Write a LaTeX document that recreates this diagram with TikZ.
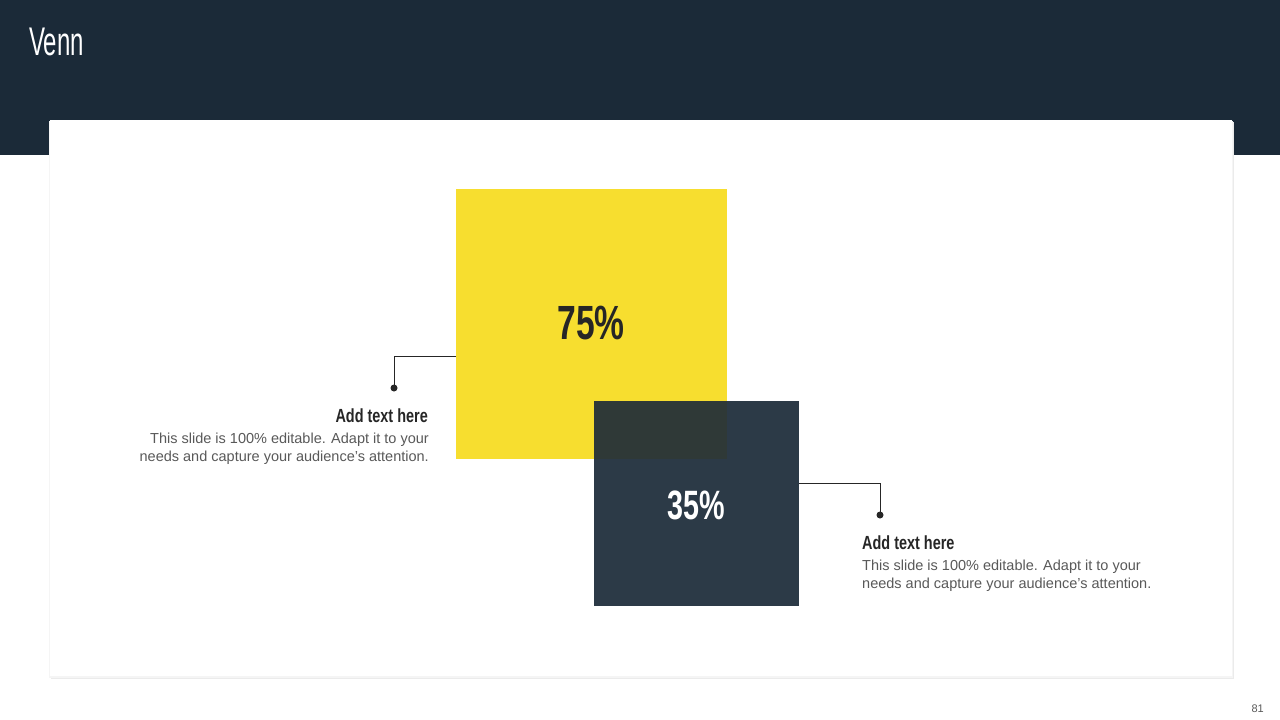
\documentclass[tikz,border=0pt]{standalone}
\usepackage{fontspec}
\setmainfont{Liberation Sans}
\newfontfamily\condfont[FakeStretch=0.70]{Liberation Sans}
\newfontfamily\titlefont[FakeStretch=0.60]{Liberation Sans}
\newfontfamily\headfont[FakeStretch=0.76]{Liberation Sans}
\definecolor{navy}{HTML}{1B2A38}
\definecolor{boxdark}{HTML}{2C3A47}
\definecolor{overlap}{HTML}{2F3937}
\definecolor{yel}{HTML}{F7DE2F}
\definecolor{txtgray}{HTML}{595959}
\definecolor{ink}{HTML}{262626}
\tikzset{
  body/.style={text=txtgray, font=\fontsize{14.5}{18}\selectfont, inner sep=0pt},
  head/.style={text=ink, font=\headfont\bfseries\fontsize{19}{22}\selectfont, inner sep=0pt},
  conn/.style={draw=ink, line width=1pt},
  dotn/.style={circle, fill=ink, inner sep=0pt, minimum size=7pt},
  pct/.style={font=\condfont\bfseries\fontsize{48}{50}\selectfont, inner sep=0pt}
}
\newcommand{\apos}{{\char"0027}}
\begin{document}
\begin{tikzpicture}[x=1pt,y=-1pt]
\useasboundingbox (0,0) rectangle (1280,720);
\fill[white] (0,0) rectangle (1280,720);
\fill[navy] (0,0) rectangle (1280,155);
\node[anchor=west, text=white, font=\titlefont\fontsize{40}{42}\selectfont, inner sep=0pt] (title) at (29,42) {Venn};
% card with shadow
\fill[black!8] (51,122) rectangle (1234,679);
\fill[black!4] (49,121) rectangle (1233,677.5);
\fill[white] (50,120) rectangle (1232,676);
% squares
\node[fill=yel, minimum width=271pt, minimum height=270pt, inner sep=0pt, anchor=north west] (ysq) at (456,189) {};
\node[fill=boxdark, minimum width=205pt, minimum height=205pt, inner sep=0pt, anchor=north west] (dsq) at (594,401) {};
\fill[overlap] (dsq.north west) rectangle (ysq.south east);
\node[pct, text=ink] (p75) at (591,323) {75\%};
\node[pct, text=white, font=\condfont\bfseries\fontsize{41}{44}\selectfont] (p35) at (696,505) {35\%};
% left connector
\coordinate (lstart) at (456,356);
\node[dotn] (ldot) at (394,388) {};
\draw[conn] (lstart) -- (394,356) -- (ldot.center);
\node[head, anchor=base east] (lhead) at (428,422) {Add text here};
\node[body, anchor=base east] (lb1) at (429,443) {This slide is 100\% editable. Adapt it to your};
\node[body, anchor=base east] (lb2) at (429,461) {needs and capture your audience\apos s attention.};
% right connector
\coordinate (rstart) at (799,483);
\node[dotn] (rdot) at (880,515) {};
\draw[conn] (rstart) -- (880,483) -- (rdot.center);
\node[head, anchor=base west] (rhead) at (862,549) {Add text here};
\node[body, anchor=base west] (rb1) at (862,570) {This slide is 100\% editable. Adapt it to your};
\node[body, anchor=base west] (rb2) at (862,588) {needs and capture your audience\apos s attention.};
% page number
\node[text=txtgray, font=\fontsize{11}{12}\selectfont, anchor=base east, inner sep=0pt] (pg) at (1264,712) {81};
\end{tikzpicture}
\end{document}
